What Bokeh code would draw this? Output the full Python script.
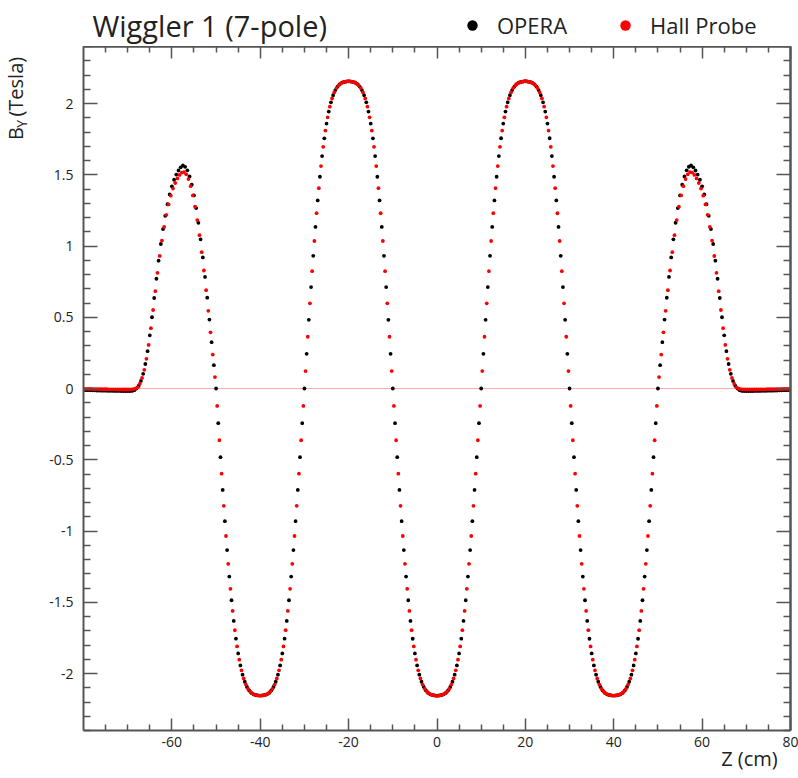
import math
from bokeh.plotting import figure
from bokeh.layouts import column, row
from bokeh.models import (ColumnDataSource, Range1d, LinearAxis, FixedTicker,
                          PrintfTickFormatter, Span, Label, Legend, LegendItem)
from bokeh.embed import file_html
from bokeh.resources import INLINE

# ---------------- data ----------------
title_text = "Wiggler 1 (7-pole)"
series_names = ["OPERA", "Hall Probe"]
x_title = "Z (cm)"
y_title_main, y_title_sub, y_title_unit = "B", "Y", "(Tesla)"

# OPERA: z = -80 ... 80 cm, every 0.5 cm
opera_start, opera_step = -80.0, 0.5
opera_b = [
    # -80 .. -68.5
    -0.010, -0.011, -0.012, -0.012, -0.013, -0.013, -0.014, -0.014, -0.015, -0.015,
    -0.015, -0.016, -0.016, -0.016, -0.017, -0.017, -0.017, -0.018, -0.018, -0.018,
    -0.018, -0.018, -0.017, -0.012,
    # -68 .. -57.5
    0.000, 0.020, 0.053, 0.103, 0.172, 0.262, 0.373, 0.500, 0.635, 0.770, 0.897,
    1.014, 1.119, 1.212, 1.293, 1.362, 1.419, 1.465, 1.501, 1.530, 1.552, 1.565,
    # -57 .. -50
    1.556, 1.531, 1.488, 1.430, 1.355, 1.266, 1.163, 1.047, 0.920, 0.783, 0.637,
    0.484, 0.325, 0.164, 0.000,
    # -49.5 .. -40
    -0.243, -0.482, -0.712, -0.931, -1.134, -1.320, -1.486, -1.631, -1.756, -1.859,
    -1.943, -2.008, -2.058, -2.094, -2.119, -2.136, -2.146, -2.151, -2.154, -2.155,
    # -39.5 .. -30
    -2.154, -2.151, -2.146, -2.136, -2.119, -2.094, -2.058, -2.008, -1.943, -1.859,
    -1.756, -1.631, -1.486, -1.320, -1.134, -0.931, -0.712, -0.482, -0.243, 0.000,
    # -29.5 .. -20
    0.243, 0.482, 0.712, 0.931, 1.134, 1.320, 1.486, 1.631, 1.756, 1.859,
    1.943, 2.008, 2.058, 2.094, 2.119, 2.136, 2.146, 2.151, 2.154, 2.156,
    # -19.5 .. -10
    2.154, 2.151, 2.146, 2.136, 2.119, 2.094, 2.058, 2.008, 1.943, 1.859,
    1.756, 1.631, 1.486, 1.320, 1.134, 0.931, 0.712, 0.482, 0.243, 0.000,
    # -9.5 .. 0
    -0.243, -0.482, -0.712, -0.931, -1.134, -1.320, -1.486, -1.631, -1.756, -1.859,
    -1.943, -2.008, -2.058, -2.094, -2.119, -2.136, -2.146, -2.151, -2.154, -2.156,
    # 0.5 .. 10
    -2.154, -2.151, -2.146, -2.136, -2.119, -2.094, -2.058, -2.008, -1.943, -1.859,
    -1.756, -1.631, -1.486, -1.320, -1.134, -0.931, -0.712, -0.482, -0.243, 0.000,
    # 10.5 .. 20
    0.243, 0.482, 0.712, 0.931, 1.134, 1.320, 1.486, 1.631, 1.756, 1.859,
    1.943, 2.008, 2.058, 2.094, 2.119, 2.136, 2.146, 2.151, 2.154, 2.156,
    # 20.5 .. 30
    2.154, 2.151, 2.146, 2.136, 2.119, 2.094, 2.058, 2.008, 1.943, 1.859,
    1.756, 1.631, 1.486, 1.320, 1.134, 0.931, 0.712, 0.482, 0.243, 0.000,
    # 30.5 .. 40
    -0.243, -0.482, -0.712, -0.931, -1.134, -1.320, -1.486, -1.631, -1.756, -1.859,
    -1.943, -2.008, -2.058, -2.094, -2.119, -2.136, -2.146, -2.151, -2.154, -2.155,
    # 40.5 .. 50
    -2.154, -2.151, -2.146, -2.136, -2.119, -2.094, -2.058, -2.008, -1.943, -1.859,
    -1.756, -1.631, -1.486, -1.320, -1.134, -0.931, -0.712, -0.482, -0.243, 0.000,
    # 50.5 .. 57.5
    0.164, 0.325, 0.484, 0.637, 0.783, 0.920, 1.047, 1.163, 1.266, 1.355, 1.430,
    1.488, 1.531, 1.556, 1.565,
    # 58 .. 68
    1.552, 1.530, 1.501, 1.465, 1.419, 1.362, 1.293, 1.212, 1.119, 1.014, 0.897,
    0.770, 0.635, 0.500, 0.373, 0.262, 0.172, 0.103, 0.053, 0.020, 0.000,
    # 68.5 .. 80
    -0.012, -0.017, -0.018, -0.018, -0.018, -0.018, -0.018, -0.017, -0.017, -0.017,
    -0.016, -0.016, -0.016, -0.015, -0.015, -0.015, -0.014, -0.014, -0.013, -0.013,
    -0.012, -0.012, -0.011, -0.010,
]

# Hall Probe: z = -79.75 ... 79.75 cm, every 0.5 cm
hall_start, hall_step = -79.75, 0.5
hall_b = [
    # -79.75 .. -68.75
    -0.002, -0.003, -0.003, -0.003, -0.004, -0.004, -0.004, -0.005, -0.005, -0.005,
    -0.005, -0.006, -0.006, -0.006, -0.006, -0.007, -0.007, -0.007, -0.007, -0.007,
    -0.007, -0.006, -0.004,
    # -68.25 .. -57.75
    -0.001, 0.008, 0.034, 0.074, 0.131, 0.208, 0.306, 0.423, 0.551, 0.683, 0.812,
    0.930, 1.038, 1.134, 1.219, 1.292, 1.353, 1.403, 1.442, 1.474, 1.499, 1.515,
    # -57.25 .. -50.25
    1.519, 1.503, 1.470, 1.420, 1.355, 1.276, 1.182, 1.076, 0.957, 0.828, 0.690,
    0.545, 0.394, 0.238, 0.080,
    # -49.75 .. -40.25
    -0.122, -0.363, -0.598, -0.823, -1.035, -1.230, -1.406, -1.561, -1.696, -1.810,
    -1.903, -1.978, -2.035, -2.078, -2.108, -2.128, -2.141, -2.149, -2.153, -2.155,
    # -39.75 .. -30.25
    -2.155, -2.153, -2.149, -2.141, -2.128, -2.108, -2.078, -2.035, -1.978, -1.903,
    -1.810, -1.696, -1.561, -1.406, -1.230, -1.035, -0.823, -0.598, -0.363, -0.122,
    # -29.75 .. -20.25
    0.122, 0.363, 0.598, 0.823, 1.035, 1.230, 1.406, 1.561, 1.696, 1.810,
    1.903, 1.978, 2.035, 2.078, 2.108, 2.128, 2.141, 2.149, 2.153, 2.157,
    # -19.75 .. -10.25
    2.157, 2.153, 2.149, 2.141, 2.128, 2.108, 2.078, 2.035, 1.978, 1.903,
    1.810, 1.696, 1.561, 1.406, 1.230, 1.035, 0.823, 0.598, 0.363, 0.122,
    # -9.75 .. -0.25
    -0.122, -0.363, -0.598, -0.823, -1.035, -1.230, -1.406, -1.561, -1.696, -1.810,
    -1.903, -1.978, -2.035, -2.078, -2.108, -2.128, -2.141, -2.149, -2.153, -2.157,
    # 0.25 .. 9.75
    -2.157, -2.153, -2.149, -2.141, -2.128, -2.108, -2.078, -2.035, -1.978, -1.903,
    -1.810, -1.696, -1.561, -1.406, -1.230, -1.035, -0.823, -0.598, -0.363, -0.122,
    # 10.25 .. 19.75
    0.122, 0.363, 0.598, 0.823, 1.035, 1.230, 1.406, 1.561, 1.696, 1.810,
    1.903, 1.978, 2.035, 2.078, 2.108, 2.128, 2.141, 2.149, 2.153, 2.157,
    # 20.25 .. 29.75
    2.157, 2.153, 2.149, 2.141, 2.128, 2.108, 2.078, 2.035, 1.978, 1.903,
    1.810, 1.696, 1.561, 1.406, 1.230, 1.035, 0.823, 0.598, 0.363, 0.122,
    # 30.25 .. 39.75
    -0.122, -0.363, -0.598, -0.823, -1.035, -1.230, -1.406, -1.561, -1.696, -1.810,
    -1.903, -1.978, -2.035, -2.078, -2.108, -2.128, -2.141, -2.149, -2.153, -2.155,
    # 40.25 .. 49.75
    -2.155, -2.153, -2.149, -2.141, -2.128, -2.108, -2.078, -2.035, -1.978, -1.903,
    -1.810, -1.696, -1.561, -1.406, -1.230, -1.035, -0.823, -0.598, -0.363, -0.122,
    # 50.25 .. 57.25
    0.080, 0.238, 0.394, 0.545, 0.690, 0.828, 0.957, 1.076, 1.182, 1.276, 1.355,
    1.420, 1.470, 1.503, 1.519,
    # 57.75 .. 68.25
    1.515, 1.499, 1.474, 1.442, 1.403, 1.353, 1.292, 1.219, 1.134, 1.038, 0.930,
    0.812, 0.683, 0.551, 0.423, 0.306, 0.208, 0.131, 0.074, 0.034, 0.008, -0.001,
    # 68.75 .. 79.75
    -0.004, -0.006, -0.007, -0.007, -0.007, -0.007, -0.007, -0.007, -0.006, -0.006,
    -0.006, -0.006, -0.005, -0.005, -0.005, -0.005, -0.004, -0.004, -0.004, -0.003,
    -0.003, -0.003, -0.002,
]

opera_z = [round(opera_start + opera_step * i, 3) for i in range(len(opera_b))]
hall_z = [round(hall_start + hall_step * i, 3) for i in range(len(hall_b))]

x_major = [-60, -40, -20, 0, 20, 40, 60, 80]
y_major = [-2, -1.5, -1, -0.5, 0, 0.5, 1, 1.5, 2]
x_title_at = [70.7]    # where the "Z (cm)" title sits along the z axis

# ---------------- styling ----------------
FONT = "Open Sans"
TXT = "#222222"
AX = "#555555"
W, H = 798, 778
HEADER_H = 46          # space above the frame
LEFT_STRIP = 40        # strip holding the y title
BOTTOM_B = 48          # tick labels + x title under the frame
FRAME_H = 684

x_minor = [v for v in range(-80, 81, 5) if v % 20 != 0]
y_minor = [round(-2.4 + 0.1 * i, 1) for i in range(49)]
y_minor = [v for v in y_minor if abs(v * 2 - round(v * 2)) > 1e-6]


def blank_fig(width, height, y_top_page, y_bot_page, x0=0):
    """Figure whose coordinates follow the page: x = page x, y = H - page y."""
    f = figure(width=width, height=height, output_backend="svg", toolbar_location=None,
               x_range=Range1d(x0, x0 + width), y_range=Range1d(H - y_bot_page, H - y_top_page),
               x_axis_location=None, y_axis_location=None,
               min_border=0, outline_line_color=None)
    f.xgrid.visible = False
    f.ygrid.visible = False
    f.background_fill_color = "white"
    f.border_fill_color = "white"
    return f


def style(ax, tin, tmin):
    ax.axis_line_color = AX
    ax.axis_line_width = 2
    ax.major_tick_line_color = AX
    ax.minor_tick_line_color = AX
    ax.major_tick_line_width = 1.5
    ax.minor_tick_line_width = 1.5
    ax.major_tick_in = tin
    ax.major_tick_out = 0
    ax.minor_tick_in = tmin
    ax.minor_tick_out = 0
    ax.formatter = PrintfTickFormatter(format="%g")
    ax.major_label_text_font = FONT
    ax.major_label_text_font_size = "14px"
    ax.major_label_text_color = TXT


# ---------------- main plot ----------------
main_h = H - HEADER_H
main = figure(width=W - LEFT_STRIP, height=main_h, output_backend="svg", toolbar_location=None,
              x_range=Range1d(-80, 80), y_range=Range1d(-2.4, 2.4),
              x_axis_location=None, y_axis_location=None,
              min_border_left=83 - LEFT_STRIP, min_border_right=8,
              min_border_top=0, min_border_bottom=BOTTOM_B)
main.outline_line_color = None
main.xgrid.visible = False
main.ygrid.visible = False
main.background_fill_color = "white"
main.border_fill_color = "white"

xb = LinearAxis(ticker=FixedTicker(ticks=x_major, minor_ticks=x_minor))
style(xb, 12, 6)
xb.major_label_standoff = 6
main.add_layout(xb, "below")

# x title "Z (cm)" at the right end, as a label-only axis stacked under the tick labels
xt_axis = LinearAxis(ticker=FixedTicker(ticks=x_title_at, minor_ticks=[]),
                     formatter=PrintfTickFormatter(format=x_title))
xt_axis.axis_line_color = None
xt_axis.major_tick_line_color = None
xt_axis.minor_tick_line_color = None
xt_axis.major_tick_in = 0
xt_axis.major_tick_out = 0
xt_axis.minor_tick_in = 0
xt_axis.minor_tick_out = 0
xt_axis.major_label_standoff = -5
xt_axis.major_label_text_font = FONT
xt_axis.major_label_text_font_size = "20px"
xt_axis.major_label_text_color = TXT
main.add_layout(xt_axis, "below")

yl = LinearAxis(ticker=FixedTicker(ticks=y_major, minor_ticks=y_minor))
style(yl, 14, 7)
yl.major_label_standoff = 10
main.add_layout(yl, "left")

# top and right frame edges: ticks only (no labels) -> major-length and minor-length sets
for side, majors, minors, lmaj, lmin in (("above", x_major, x_minor, 12, 6),
                                         ("right", y_major, y_minor, 14, 7)):
    a1 = LinearAxis(ticker=FixedTicker(ticks=[], minor_ticks=majors))
    style(a1, 0, lmaj)
    main.add_layout(a1, side)
    a2 = LinearAxis(ticker=FixedTicker(ticks=[], minor_ticks=minors))
    style(a2, 0, lmin)
    main.add_layout(a2, side)

main.add_layout(Span(location=0, dimension="width", line_color="#ffaaaa",
                     line_width=1, level="underlay"))

src_op = ColumnDataSource(dict(z=opera_z, b=opera_b))
src_hp = ColumnDataSource(dict(z=hall_z, b=hall_b))
r_op = main.scatter("z", "b", source=src_op, size=3.8, fill_color="black", line_color=None)
r_hp = main.scatter("z", "b", source=src_hp, size=3.8, fill_color="#ff0000", line_color=None)

# ---------------- header: title + legend ----------------
header = blank_fig(W, HEADER_H, 0, HEADER_H)
header.add_layout(Label(x=92, y=H - 24.5, text=title_text, text_font=FONT,
                        text_font_size="29px", text_color=TXT,
                        text_align="left", text_baseline="alphabetic"))
# legend swatches: renderers kept off the visible range, only their style is used
lg_op = header.scatter(x=[-100], y=[-100], size=10, fill_color="black", line_color=None)
lg_hp = header.scatter(x=[-100], y=[-100], size=10, fill_color="#ff0000", line_color=None)
legend = Legend(items=[LegendItem(label=series_names[0], renderers=[lg_op]),
                       LegendItem(label=series_names[1], renderers=[lg_hp])],
                orientation="horizontal", location=(459, 6),
                glyph_width=26, glyph_height=30, label_standoff=12, spacing=45,
                padding=0, margin=0, border_line_color=None, background_fill_alpha=0,
                label_text_font=FONT, label_text_font_size="22px",
                label_text_color=TXT)
header.add_layout(legend)

# ---------------- left strip: rotated y title B_Y (Tesla) ----------------
ylab = blank_fig(LEFT_STRIP, main_h, HEADER_H, HEADER_H + main_h)
ylab.add_layout(Label(x=15, y=H - 146, text=y_title_main, angle=math.pi / 2, text_font=FONT,
                      text_font_size="20px", text_color=TXT,
                      text_align="left", text_baseline="alphabetic"))
ylab.add_layout(Label(x=20.5, y=H - 133, text=y_title_sub, angle=math.pi / 2, text_font=FONT,
                      text_font_size="14px", text_color=TXT,
                      text_align="left", text_baseline="alphabetic"))
ylab.add_layout(Label(x=15, y=H - 121, text=y_title_unit, angle=math.pi / 2, text_font=FONT,
                      text_font_size="20px", text_color=TXT,
                      text_align="left", text_baseline="alphabetic"))

layout = column(header, row(ylab, main, spacing=0), spacing=0)
open("out.html", "w").write(file_html(layout, INLINE))
